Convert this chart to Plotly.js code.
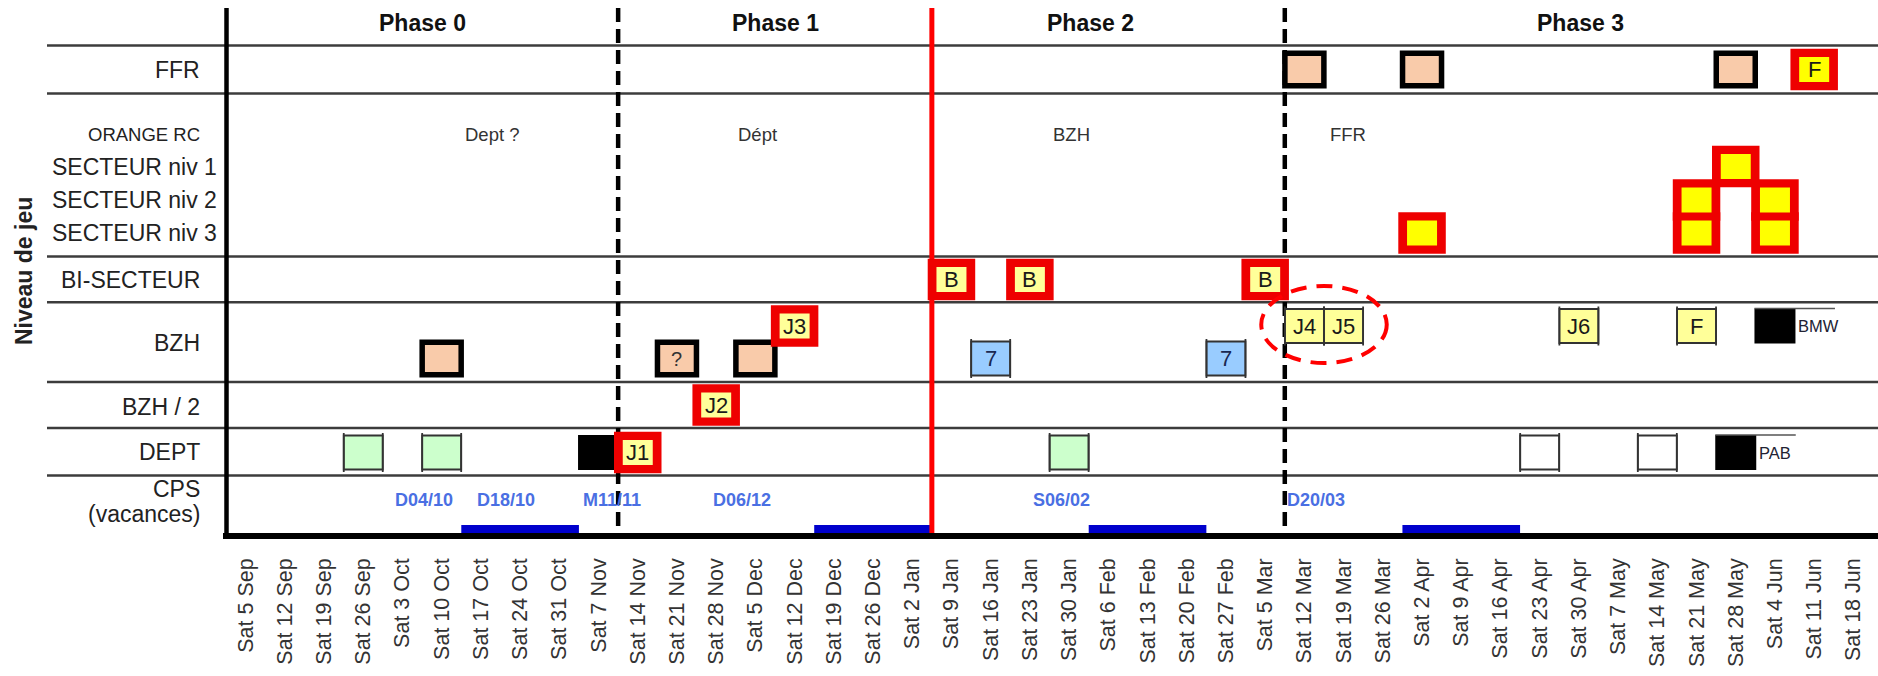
<!DOCTYPE html>
<html><head><meta charset="utf-8">
<script src="https://cdn.plot.ly/plotly-3.0.1.min.js"></script>
<style>html,body{margin:0;padding:0;background:#fff;} #chart{width:1878px;height:676px;}</style>
</head><body><div id="chart"></div>
<script>
// ================= DATA =================
const weeks = ['Sat 5 Sep','Sat 12 Sep','Sat 19 Sep','Sat 26 Sep','Sat 3 Oct','Sat 10 Oct','Sat 17 Oct','Sat 24 Oct','Sat 31 Oct','Sat 7 Nov','Sat 14 Nov','Sat 21 Nov','Sat 28 Nov','Sat 5 Dec','Sat 12 Dec','Sat 19 Dec','Sat 26 Dec','Sat 2 Jan','Sat 9 Jan','Sat 16 Jan','Sat 23 Jan','Sat 30 Jan','Sat 6 Feb','Sat 13 Feb','Sat 20 Feb','Sat 27 Feb','Sat 5 Mar','Sat 12 Mar','Sat 19 Mar','Sat 26 Mar','Sat 2 Apr','Sat 9 Apr','Sat 16 Apr','Sat 23 Apr','Sat 30 Apr','Sat 7 May','Sat 14 May','Sat 21 May','Sat 28 May','Sat 4 Jun','Sat 11 Jun','Sat 18 Jun'];

const rows = ['FFR','ORANGE RC','SECTEUR niv 1','SECTEUR niv 2','SECTEUR niv 3','BI-SECTEUR','BZH','BZH / 2','DEPT','CPS','(vacances)'];

const phases = ['Phase 0','Phase 1','Phase 2','Phase 3'];
const phaseLastWeek = ['Sat 7 Nov','Sat 2 Jan','Sat 5 Mar','Sat 18 Jun'];
const orangeLevel = ['Dept ?','Dépt','BZH','FFR'];

// peach boxes, thick black border
const peachWeeks = ['Sat 12 Mar','Sat 2 Apr','Sat 28 May','Sat 10 Oct','Sat 21 Nov','Sat 5 Dec'];
const peachRows  = ['FFR','FFR','FFR','BZH','BZH','BZH'];
const peachText  = ['','','','','?',''];

// red-framed pale yellow boxes (journées / barrages)
const redWeeks = ['Sat 14 Nov','Sat 28 Nov','Sat 12 Dec','Sat 9 Jan','Sat 23 Jan','Sat 5 Mar'];
const redRows  = ['DEPT','BZH / 2','BZH','BI-SECTEUR','BI-SECTEUR','BI-SECTEUR'];
const redText  = ['J1','J2','J3','B','B','B'];

// red-framed bright yellow boxes
const selWeeks = ['Sat 11 Jun','Sat 2 Apr','Sat 21 May','Sat 21 May','Sat 28 May','Sat 4 Jun','Sat 4 Jun'];
const selRows  = ['FFR','SECTEUR niv 3','SECTEUR niv 2','SECTEUR niv 3','SECTEUR niv 1','SECTEUR niv 2','SECTEUR niv 3'];
const selText  = ['F','','','','','',''];

// thin-framed pale yellow boxes
const yellowWeeks = ['Sat 12 Mar','Sat 19 Mar','Sat 30 Apr','Sat 21 May'];
const yellowRows  = ['BZH','BZH','BZH','BZH'];
const yellowText  = ['J4','J5','J6','F'];

// thin-framed blue boxes
const blueWeeks = ['Sat 16 Jan','Sat 27 Feb'];
const blueRows  = ['BZH','BZH'];
const blueText  = ['7','7'];

// thin-framed green boxes
const greenWeeks = ['Sat 26 Sep','Sat 10 Oct','Sat 30 Jan'];
const greenRows  = ['DEPT','DEPT','DEPT'];

// thin-framed white boxes
const whiteWeeks = ['Sat 23 Apr','Sat 14 May'];
const whiteRows  = ['DEPT','DEPT'];

// black boxes
const blackWeeks = ['Sat 7 Nov','Sat 4 Jun','Sat 28 May'];
const blackRows  = ['DEPT','BZH','DEPT'];
const blackText  = ['','BMW','PAB'];

// school holidays (CPS vacances)
const vacStart = ['Sat 17 Oct','Sat 19 Dec','Sat 6 Feb','Sat 2 Apr'];
const vacEnd   = ['Sat 31 Oct','Sat 2 Jan','Sat 20 Feb','Sat 16 Apr'];

// CPS dates and their position on the week scale
const cpsText = ['D04/10','D18/10','M11/11','D06/12','S06/02','D20/03'];
const cpsAt   = [4.55, 6.65, 9.35, 12.65, 20.8, 27.3];

// highlighted pair
const highlightWeeks = ['Sat 12 Mar','Sat 19 Mar'];

// ================= LAYOUT CONFIG (positions / styles) =================
const FONT = 'Liberation Sans, Arial, Helvetica, sans-serif';
const M_L = 226, M_R = 5, M_T = 8, M_B = 140, W = 1878, H = 676;
const PW = W - M_L - M_R, PH = H - M_T - M_B;
const Y_TOP = M_T, Y_BOT = M_T + PH;           // y axis runs in screen units
const px2x = px => (px - M_L) / PW;             // paper x
const py2y = py => (Y_BOT - py) / PH;            // paper y

const ROW_LINES = [45.5, 93.4, 256.5, 302.3, 382, 428, 475.5];
const ROW_LABEL_Y = {'FFR':69.5,'ORANGE RC':134.7,'SECTEUR niv 1':166.7,'SECTEUR niv 2':200,'SECTEUR niv 3':232.5,
  'BI-SECTEUR':280,'BZH':343,'BZH / 2':406.5,'DEPT':451.7,'CPS':489,'(vacances)':514};
const ROW_Y = {'FFR':69.5,'SECTEUR niv 1':166.5,'SECTEUR niv 2':200,'SECTEUR niv 3':233,
  'BI-SECTEUR':279.5,'BZH':326,'BZH / 2':405,'DEPT':452.5};
const BZH_LOWER = 358.5;
const phaseLabelAt = [4.5, 13.5, 21.55, 34.05];
const orangeLabelAt = [6.3, 13.05, 21.05, 28.1];
const boundaryStyle = [{color:'#000', width:4.5, dash:'14px,7px'}, {color:'#ff0000', width:5, dash:'solid'}, {color:'#000', width:4.5, dash:'14px,7px'}];

const wi = w => weeks.indexOf(w);
const shapes = [];
const annotations = [];

function pbox(xw, yv, w, h, fill, lineColor, lineW) {
  return {type:'rect', xref:'x', yref:'y', xsizemode:'pixel', ysizemode:'pixel',
    xanchor: xw, yanchor: yv, x0:-w/2, x1:w/2, y0:-h/2, y1:h/2,
    fillcolor: fill, line:{color: lineColor || 'rgba(0,0,0,0)', width: lineW || 0}, layer:'above'};
}
function pline(xw, yv, x0, x1, y0, y1, color, width) {
  return {type:'line', xref:'x', yref:'y', xsizemode:'pixel', ysizemode:'pixel', xanchor: xw, yanchor: yv,
    x0: x0, x1: x1, y0: y0, y1: y1, line:{color: color, width: width}, layer:'above'};
}
function boxText(xw, yv, t, color, size) {
  if (!t) return;
  annotations.push({xref:'x', yref:'y', x: xw, y: yv, text: t, showarrow:false,
    font:{family:FONT, size: size || 22, color: color || '#1a1a1a'}, xanchor:'center', yanchor:'middle'});
}

// horizontal row lines
ROW_LINES.forEach(y => shapes.push({type:'line', xref:'paper', yref:'paper', x0:px2x(47), x1:px2x(1880), y0:py2y(y), y1:py2y(y), line:{color:'#3c3c3c', width:2.5}, layer:'above'}));
// school holidays bars
vacStart.forEach((s, k) => shapes.push({type:'rect', xref:'x', yref:'y', x0: wi(s)-0.5, x1: wi(vacEnd[k])+0.5, y0: 525, y1: 535, fillcolor:'#0000cc', line:{width:0}, layer:'above'}));
// phase boundaries
phaseLastWeek.slice(0, -1).forEach((w, k) => shapes.push({type:'line', xref:'x', yref:'y', x0: wi(w)+0.5, x1: wi(w)+0.5, y0: Y_TOP, y1: Y_BOT, line: boundaryStyle[k], layer:'above'}));
// left border and bottom axis
shapes.push({type:'line', xref:'paper', yref:'paper', x0:px2x(226.5), x1:px2x(226.5), y0:py2y(8), y1:py2y(539), line:{color:'#000', width:4.5}, layer:'above'});
shapes.push({type:'line', xref:'paper', yref:'paper', x0:px2x(223), x1:px2x(1880), y0:py2y(536), y1:py2y(536), line:{color:'#000', width:6}, layer:'above'});

// thin-framed boxes (sides drawn a little longer, like the original)
function thin(ws, rs, fill, texts, tcolor, lower) {
  ws.forEach((w, k) => {
    const y = (rs[k] === 'BZH' && lower) ? BZH_LOWER : ROW_Y[rs[k]];
    shapes.push(pbox(wi(w), y, 39, 34, fill, '#333', 1.8));
    shapes.push(pline(wi(w), y, -19.5, -19.5, -19.5, 19.5, '#333', 1.8));
    shapes.push(pline(wi(w), y, 19.5, 19.5, -19.5, 19.5, '#333', 1.8));
    if (texts) boxText(wi(w), y, texts[k], tcolor);
  });
}
thin(greenWeeks, greenRows, '#ccffcc');
thin(whiteWeeks, whiteRows, '#ffffff');
thin(blueWeeks, blueRows, '#99ccff', blueText, '#1a2850', true);
thin(yellowWeeks, yellowRows, '#ffff99', yellowText, '#1a1a1a');

// peach boxes
peachWeeks.forEach((w, k) => {
  const y = peachRows[k] === 'BZH' ? BZH_LOWER : ROW_Y[peachRows[k]];
  shapes.push(pbox(wi(w), y, 39, 32.5, '#f9cbaa', '#000', 5.5));
  boxText(wi(w), y, peachText[k], '#333', 20);
});

// black boxes
blackWeeks.forEach((w, k) => {
  const y = ROW_Y[blackRows[k]];
  shapes.push(pbox(wi(w), y, 41, 35, '#000'));
  if (blackText[k]) {
    shapes.push(pline(wi(w), y, -20.5, 60, 17.5, 17.5, '#555', 1.5));
    annotations.push({xref:'x', yref:'y', x: wi(w), y: y, xshift: 21, text: blackText[k], showarrow:false,
      font:{family:FONT, size:16.5, color:'#223'}, xanchor:'left', yanchor:'middle'});
  }
});

// red framed boxes: outer frames first, then inner fills
const redAll = [];
redWeeks.forEach((w, k) => redAll.push({x: wi(w), y: ROW_Y[redRows[k]], fill:'#ffff99', t: redText[k]}));
selWeeks.forEach((w, k) => redAll.push({x: wi(w), y: ROW_Y[selRows[k]], fill:'#ffff00', t: selText[k]}));
redAll.forEach(b => shapes.push(pbox(b.x, b.y, 47.5, 41.5, '#ee0000')));
redAll.forEach(b => { shapes.push(pbox(b.x, b.y, 30, 25, b.fill)); boxText(b.x, b.y, b.t, '#1a1a1a'); });

// highlight ellipse
const hx = (wi(highlightWeeks[0]) + wi(highlightWeeks[1])) / 2;
shapes.push({type:'circle', xref:'x', yref:'y', x0: hx - 1.6, x1: hx + 1.6, y0: 286, y1: 363,
  line:{color:'#ff0000', width:4, dash:'16px,10px'}, layer:'above'});

// phase labels
phases.forEach((p, k) => annotations.push({xref:'x', yref:'y', x: phaseLabelAt[k], y: 23, text: '<b>' + p + '</b>', showarrow:false,
  font:{family:FONT, size:23, color:'#111'}, xanchor:'center', yanchor:'middle'}));
// orange RC level per phase
orangeLevel.forEach((t, k) => annotations.push({xref:'x', yref:'y', x: orangeLabelAt[k], y: 134.7, text: t, showarrow:false,
  font:{family:FONT, size:18.5, color:'#333'}, xanchor:'center', yanchor:'middle'}));
// CPS dates
cpsText.forEach((t, k) => annotations.push({xref:'x', yref:'y', x: cpsAt[k], y: 500, text: '<b>' + t + '</b>', showarrow:false,
  font:{family:FONT, size:18, color:'#4a6fe3'}, xanchor:'center', yanchor:'middle'}));
// row labels
rows.forEach(r => {
  const sect = r.indexOf('SECTEUR niv') === 0;
  annotations.push({xref:'paper', yref:'y', x: sect ? px2x(50) : px2x(202), y: ROW_LABEL_Y[r], text: r, showarrow:false,
    font:{family:FONT, size: r === 'ORANGE RC' ? 18.5 : 23, color:'#222'}, xanchor: sect ? 'left' : 'right', yanchor:'middle'});
});
// y axis title
annotations.push({xref:'paper', yref:'y', x: px2x(24), y: 271, text:'<b>Niveau de jeu</b>', textangle:-90, showarrow:false,
  font:{family:FONT, size:23, color:'#222'}, xanchor:'center', yanchor:'middle'});

const data = [{type:'scatter', x:[0], y:[null], mode:'markers', showlegend:false, hoverinfo:'skip'}];

const layout = {
  width: W, height: H, margin:{l:M_L, r:M_R, t:M_T, b:M_B},
  paper_bgcolor:'#fff', plot_bgcolor:'#fff', showlegend:false,
  font:{family:FONT},
  xaxis:{range:[-0.5, 41.5], tickvals: weeks.map((w, k) => k), ticktext: weeks, tickangle:-90,
    tickfont:{family:FONT, size:21.5, color:'#333'}, ticks:'', showgrid:false, zeroline:false, showline:false,
    ticklabelstandoff: 17, fixedrange:true},
  yaxis:{range:[Y_BOT, Y_TOP], showticklabels:false, showgrid:false, zeroline:false, showline:false, ticks:'', fixedrange:true},
  shapes: shapes, annotations: annotations
};
Plotly.newPlot('chart', data, layout, {staticPlot:true, displayModeBar:false});
</script></body></html>
